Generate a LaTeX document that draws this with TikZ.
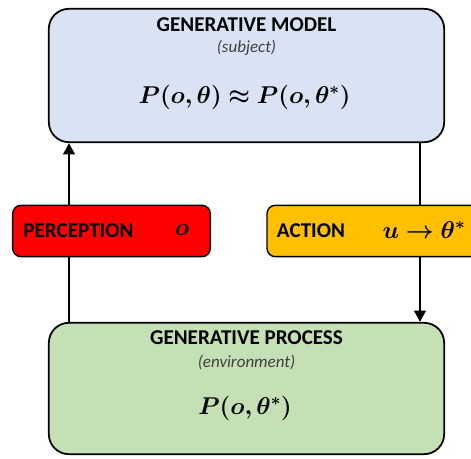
\documentclass[tikz,border=0pt]{standalone}
\usepackage{fontspec}
\usepackage{amsmath}
\usepackage{bm}
\setmainfont{Carlito}
\usetikzlibrary{shapes,arrows.meta,positioning,calc}
\definecolor{modelblue}{RGB}{218,227,243}
\definecolor{processgreen}{RGB}{197,224,180}
\definecolor{perceptred}{RGB}{255,0,0}
\definecolor{actionorange}{RGB}{255,192,0}
\definecolor{subgray}{RGB}{64,64,64}

\begin{document}
\begin{tikzpicture}[
    bigbox/.style={draw, line width=1.5pt, rounded corners=0.6cm, minimum width=11.86cm},
    smallbox/.style={draw, line width=1.2pt, rounded corners=0.25cm, minimum height=1.54cm},
    title/.style={draw=none, font=\fontsize{18}{21}\selectfont\bfseries},
    subtitle/.style={draw=none, font=\fontsize{14.5}{17}\selectfont\itshape, text=subgray},
    formula/.style={draw=none, font=\fontsize{20}{24}\selectfont},
    label/.style={draw=none, font=\fontsize{18}{21}\selectfont\bfseries},
    flow/.style={line width=2.5pt, -{Triangle[length=3.4mm,width=3.4mm]}}
]
\useasboundingbox (0,0) rectangle (14.13,13.77);

% Generative model
\node[bigbox, fill=modelblue, minimum height=4.0cm] (model) at (7.395,11.505) {};
\node[title] (modeltitle) at (7.395,13.02) {GENERATIVE MODEL};
\node[subtitle] (modelsub) at (7.395,12.33) {(subject)};
\node[formula] (modeleq) at (7.335,10.86) {$\bm{P(o,\theta)\approx P(o,\theta^{*})}$};

% Generative process
\node[bigbox, fill=processgreen, minimum height=3.94cm] (process) at (7.395,2.115) {};
\node[title] (processtitle) at (7.395,3.63) {GENERATIVE PROCESS};
\node[subtitle] (processsub) at (7.395,2.91) {(environment)};
\node[formula] (processeq) at (7.35,1.53) {$\bm{P(o,\theta^{*})}$};

% Connections
\coordinate (leftx) at (2.07,0);
\coordinate (rightx) at (12.6,0);
\draw[flow] (process.north -| leftx) -- (model.south -| leftx);
\draw[flow] (model.south -| rightx) -- (process.north -| rightx);

% Perception
\node[smallbox, fill=perceptred, minimum width=5.93cm] (percept) at (3.345,6.84) {};
\node[label] (perceptlabel) at (2.355,6.84) {PERCEPTION};
\node[formula, font=\fontsize{21}{25}\selectfont] (perceptsym) at (5.46,6.86) {$\bm{o}$};

% Action
\node[smallbox, fill=actionorange, minimum width=6.99cm] (action) at (11.505,6.84) {};
\node[label] (actionlabel) at (9.33,6.84) {ACTION};
\node[formula, font=\fontsize{21}{25}\selectfont] (actionsym) at (12.72,6.86) {$\bm{u\rightarrow\theta^{*}}$};

\end{tikzpicture}
\end{document}
